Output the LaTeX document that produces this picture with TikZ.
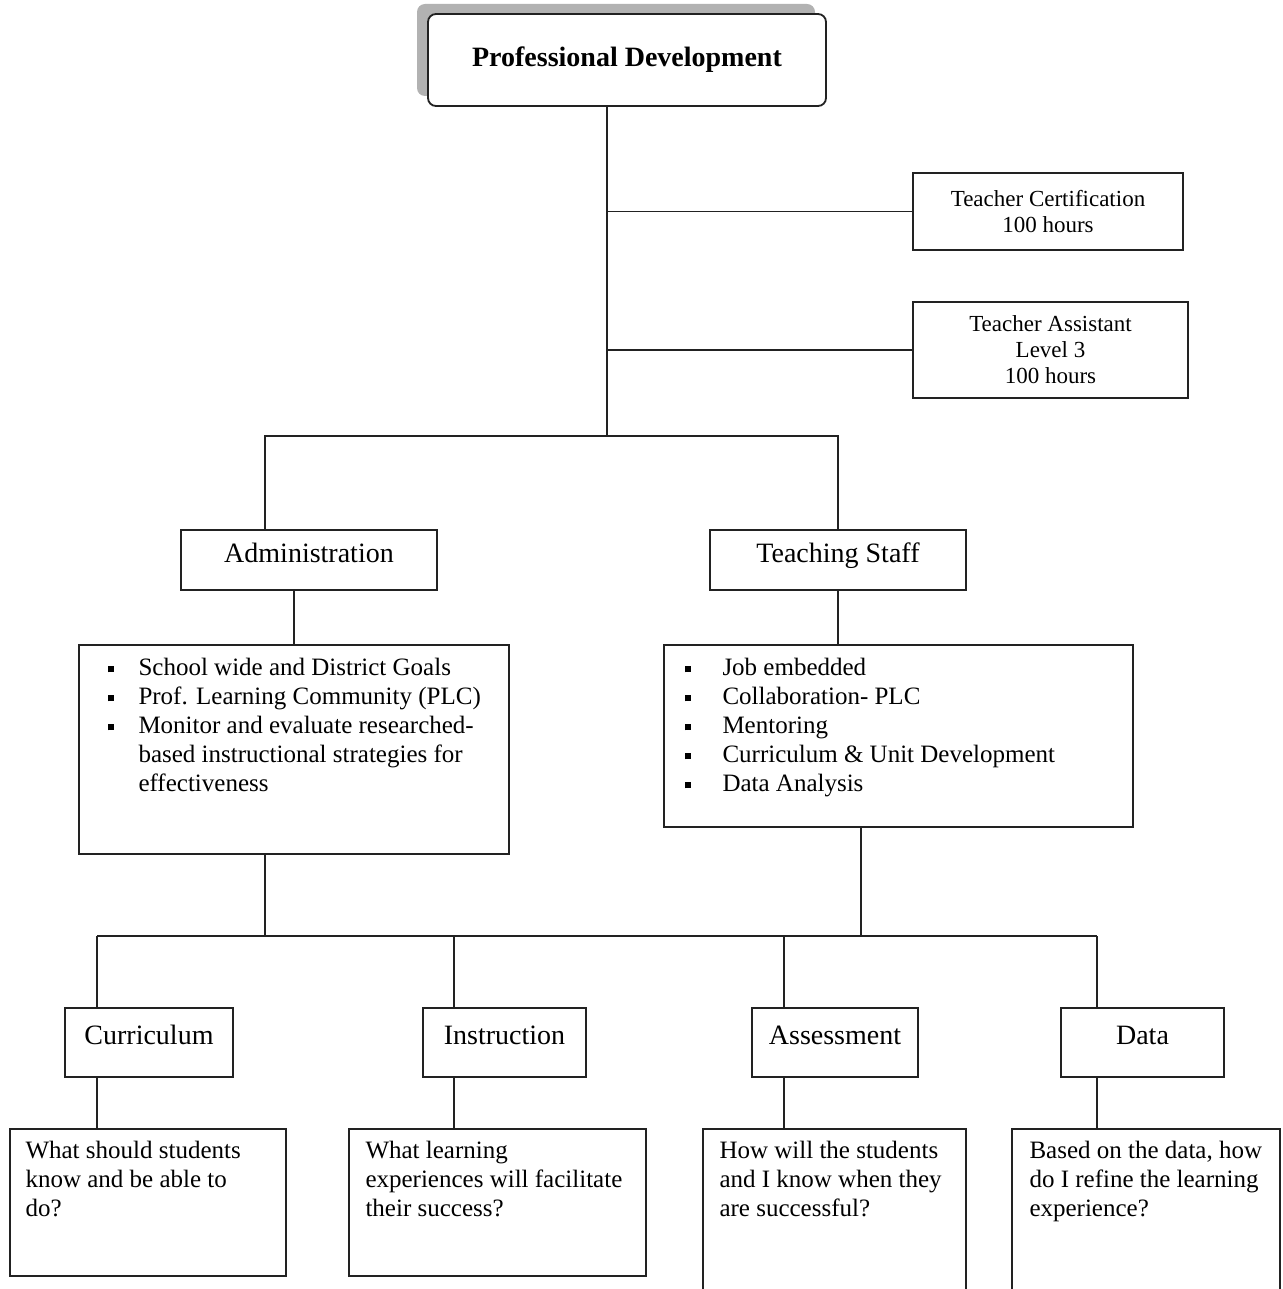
\documentclass[tikz,border=0pt]{standalone}
\usepackage{fontspec}
\setmainfont{Liberation Serif}
\usetikzlibrary{calc,shadows}
\definecolor{ink}{HTML}{222222}
\definecolor{shade}{HTML}{B2B2B2}
\newcommand{\sqb}[1]{\makebox[#1][l]{\rule[1.7pt]{3pt}{3pt}}}
\tikzset{
  box/.style={draw=ink, fill=white, line width=0.9pt, inner sep=0pt},
  pdbox/.style={box, rounded corners=4pt, font=\fontsize{14}{17}\selectfont\bfseries,
                drop shadow={shadow xshift=-5.5pt, shadow yshift=5pt, fill=shade, opacity=1}},
  sidebox/.style={box, align=center, font=\fontsize{11.5}{13}\selectfont},
  headbox/.style={box, font=\fontsize{14}{17}\selectfont, text height=10pt, text depth=8pt},
  bodytext/.style={inner sep=0pt, align=left, anchor=north west,
                   font=\fontsize{12.5}{14.5}\selectfont},
  link/.style={draw=ink, line width=0.9pt}
}

\begin{document}
\begin{tikzpicture}[x=0.5pt,y=-0.5pt]
  \useasboundingbox (0,0) rectangle (1283,1289);
  \clip (0,0) rectangle (1283,1289);

  % top of the tree
  \node[pdbox, minimum width=199pt, minimum height=46pt] (pd) at (627,60) {Professional Development};
  \node[sidebox, minimum width=135pt, minimum height=38.5pt] (tc) at (1048,211.5)
    {Teacher Certification\\100 hours};
  \node[sidebox, minimum width=137.5pt, minimum height=48pt] (ta) at (1050.5,350)
    {Teacher Assistant\\Level 3\\100 hours};
  \coordinate (tk) at (607,436);
  \coordinate (jl) at (265,436);
  \draw[link] (pd.south -| tk) -- (tk);
  \draw[link] (tc.west -| tk) -- (tc.west);
  \draw[link] (ta.west -| tk) -- (ta.west);

  % two groups
  \node[headbox, minimum width=128pt, minimum height=30pt] (adm) at (309,560) {Administration};
  \node[headbox, minimum width=128pt, minimum height=30pt] (ts) at (838,560) {Teaching Staff};
  \draw[link] (jl |- adm.north) -- (jl) -- (jl -| ts.north) -- (ts.north);

  % what each group does
  \node[box, minimum width=215pt, minimum height=104.5pt] (admlist) at (294,749.5) {};
  \node[bodytext] (admtext) at ($(admlist.north west)+(29,14)$)
    {\sqb{15.5pt}School wide and District Goals\\
     \sqb{15.5pt}Prof. Learning Community (PLC)\\
     \sqb{15.5pt}Monitor and evaluate researched-\\
     \hspace*{15.5pt}based instructional strategies for\\
     \hspace*{15.5pt}effectiveness};
  \node[box, minimum width=234.5pt, minimum height=91pt] (tslist) at (898.5,736) {};
  \node[bodytext] (tstext) at ($(tslist.north west)+(21,14)$)
    {\sqb{19pt}Job embedded\\
     \sqb{19pt}Collaboration- PLC\\
     \sqb{19pt}Mentoring\\
     \sqb{19pt}Curriculum \& Unit Development\\
     \sqb{19pt}Data Analysis};
  \draw[link] (adm.south -| admlist.north) -- (admlist.north);
  \draw[link] (ts.south) -- (ts.south |- tslist.north);

  % four areas
  \foreach \i/\x in {1/97,2/454,3/784,4/1097}
    {\coordinate (d\i) at (\x,936);}
  \coordinate (tsdrop) at (861,936);
  \draw[link] (admlist.south -| jl) -- (jl |- d1);
  \draw[link] (tslist.south -| tsdrop) -- (tsdrop);
  \draw[link] (d1) -- (d4);

  \node[headbox, minimum width=84pt, minimum height=34.5pt] (cur) at (149,1042.5) {Curriculum};
  \node[headbox, minimum width=81.5pt, minimum height=34.5pt] (ins) at (504.5,1042.5) {Instruction};
  \node[headbox, minimum width=83pt, minimum height=34.5pt] (ass) at (835,1042.5) {Assessment};
  \node[headbox, minimum width=81.5pt, minimum height=34.5pt] (dat) at (1142.5,1042.5) {Data};

  % guiding questions
  \node[box, minimum width=138pt, minimum height=73.5pt] (q1) at (148,1202.5) {};
  \node[box, minimum width=148.5pt, minimum height=73.5pt] (q2) at (497.5,1202.5) {};
  \node[box, minimum width=131.5pt, minimum height=90.5pt] (q3) at (834.5,1219.5) {};
  \node[box, minimum width=134pt, minimum height=90.5pt] (q4) at (1146,1219.5) {};
  \node[bodytext] (q1t) at ($(q1.north west)+(16,13)$)
    {What should students\\know and be able to\\do?};
  \node[bodytext] (q2t) at ($(q2.north west)+(17,13)$)
    {What learning\\experiences will facilitate\\their success?};
  \node[bodytext] (q3t) at ($(q3.north west)+(17,13)$)
    {How will the students\\and I know when they\\are successful?};
  \node[bodytext] (q4t) at ($(q4.north west)+(18,13)$)
    {Based on the data, how\\do I refine the learning\\experience?};

  \foreach \i/\lab/\q in {1/cur/q1,2/ins/q2,3/ass/q3,4/dat/q4} {
    \draw[link] (d\i) -- (d\i |- \lab.north);
    \draw[link] (\lab.south -| d\i) -- (d\i |- \q.north);
  }
\end{tikzpicture}
\end{document}
